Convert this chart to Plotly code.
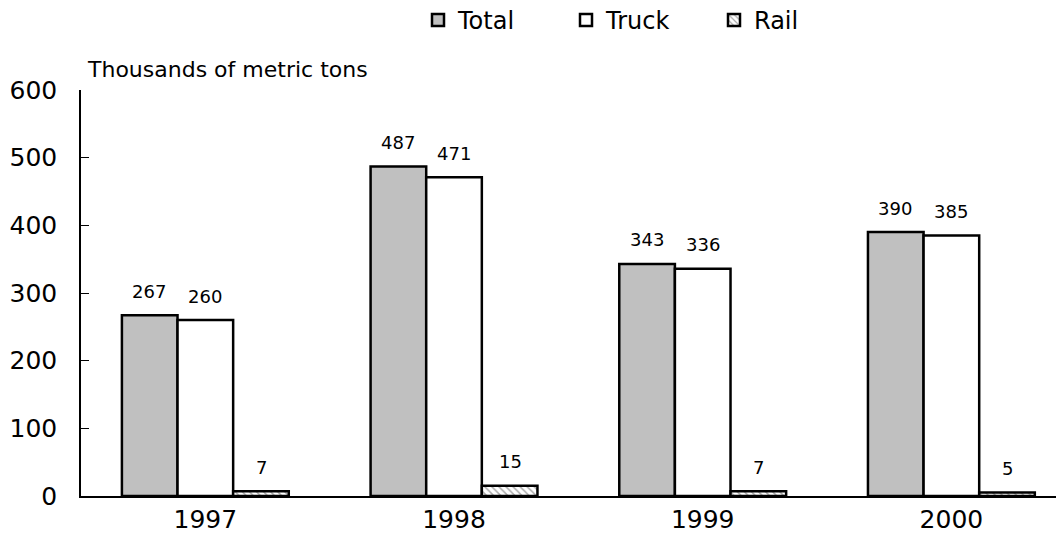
import plotly.graph_objects as go

years = ["1997", "1998", "1999", "2000"]
total = [267, 487, 343, 390]
truck = [260, 471, 336, 385]
rail = [7, 15, 7, 5]
y_ticks = [0, 100, 200, 300, 400, 500, 600]

FONT = "DejaVu Sans"
# page body has an 8px margin, so margins are shifted to compensate
ML, MR, MT, MB = 73, 0, 82, 62
W = 1064 - ML - MR
H = 550 - MT - MB
X0 = ML + 8  # window x of the plot's left edge

fig = go.Figure()
fig.add_trace(go.Bar(x=years, y=total, name="Total", legend="legend",
                     marker=dict(color="#c0c0c0", line=dict(color="black", width=2.5))))
fig.add_trace(go.Bar(x=years, y=truck, name="Truck", legend="legend2",
                     marker=dict(color="white", line=dict(color="black", width=2.5))))
fig.add_trace(go.Bar(x=years, y=rail, name="Rail", legend="legend3",
                     marker=dict(color="white", line=dict(color="black", width=2.5),
                                 pattern=dict(shape="\\", fgcolor="#555555", size=5, solidity=0.3))))

# value labels above bars
for series, shift in [(total, -56), (truck, 0), (rail, 56)]:
    for i, v in enumerate(series):
        fig.add_annotation(x=i, y=v, text=str(v), showarrow=False, xshift=shift,
                           yshift=24, font=dict(size=18, color="black", family=FONT))

fig.add_annotation(xref="paper", yref="paper", x=0.004, y=1.0, yshift=6, yanchor="bottom", xanchor="left",
                   text="Thousands of metric tons", showarrow=False,
                   font=dict(size=22, color="black", family=FONT))

leg_y = 1 + (MT + 10) / H
leg = dict(orientation="h", yref="paper", y=leg_y, yanchor="top", xanchor="left",
           font=dict(size=24, family=FONT), itemwidth=30, bgcolor="rgba(0,0,0,0)")
fig.update_layout(
    width=1064, height=550,
    margin=dict(l=ML, r=MR, t=MT, b=MB, autoexpand=False),
    paper_bgcolor="white", plot_bgcolor="white",
    barmode="group", bargap=0.329, bargroupgap=0,
    font=dict(family=FONT, color="black"),
    showlegend=True,
    legend=dict(leg, x=(418 - X0) / W),
    legend2=dict(leg, x=(566 - X0) / W),
    legend3=dict(leg, x=(714 - X0) / W),
)
fig.update_xaxes(range=[-0.5, 3.485], showline=True, linecolor="black", linewidth=1.5,
                 ticks="", tickfont=dict(size=25), showgrid=False, automargin=False)
fig.update_yaxes(range=[0, 600], tickvals=y_ticks, showline=True, linecolor="black", linewidth=1.5,
                 ticks="inside", ticklen=8, tickcolor="black", tickfont=dict(size=25),
                 showgrid=False, zeroline=False, ticklabelstandoff=17, automargin=False)

fig.write_html("out.html")
